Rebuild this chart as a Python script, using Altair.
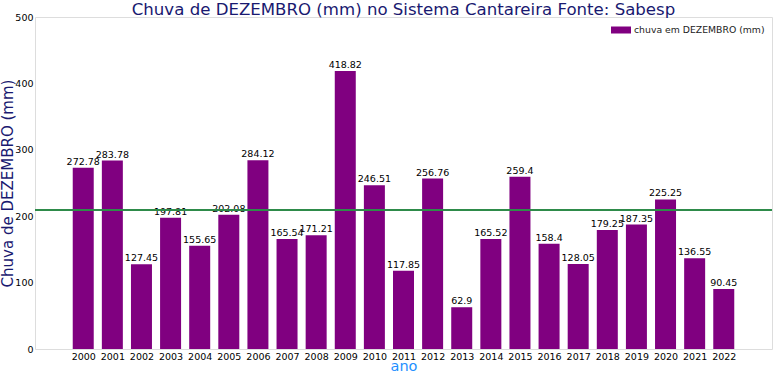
import altair as alt
import pandas as pd

anos = list(range(2000, 2023))
chuva = [272.78, 283.78, 127.45, 197.81, 155.65, 202.08, 284.12, 165.54, 171.21,
         418.82, 246.51, 117.85, 256.76, 62.9, 165.52, 259.4, 158.4, 128.05,
         179.25, 187.35, 225.25, 136.55, 90.45]
media = [209.3]
serie = "chuva em DEZEMBRO (mm)"
y_ticks = [0, 100, 200, 300, 400, 500]

df = pd.DataFrame({"ano": anos, "chuva": chuva, "serie": [serie] * len(anos),
                   "rotulo": [f"{v:g}" for v in chuva]})
df_media = pd.DataFrame({"media": media})

FONT = "DejaVu Sans"
xscale = alt.Scale(domain=[1998.515, 2023.485], nice=False, zero=False)
yscale = alt.Scale(domain=[0, 500], nice=False)

xaxis = alt.Axis(values=anos, format="d", title="ano", grid=False, ticks=False,
                 domain=False, labelFont=FONT, labelFontSize=9.5, labelColor="black",
                 labelPadding=2, labelOverlap=False, labelFlush=False,
                 titleFont=FONT, titleFontSize=14.5, titleFontWeight="normal",
                 titleColor="#1E90FF", titleY=10, titleBaseline="top")
yaxis = alt.Axis(values=y_ticks, title="Chuva de DEZEMBRO (mm)",
                 grid=False, ticks=False, domain=False, labelFont=FONT,
                 labelFontSize=9.5, labelColor="black", labelPadding=2, labelOverlap=False,
                 titleFont=FONT, titleFontSize=15, titleFontWeight="normal",
                 titleColor="#191970", titleX=-28, titleY=166, titleAngle=270,
                 titleAlign="center", titleBaseline="middle")

bars = alt.Chart(df).mark_bar(size=21).encode(
    x=alt.X("ano:Q", scale=xscale, axis=xaxis),
    y=alt.Y("chuva:Q", scale=yscale, axis=yaxis),
    color=alt.Color("serie:N", scale=alt.Scale(range=["#800080"]),
                    legend=alt.Legend(title=None, orient="none", legendX=576, legendY=3,
                                      symbolType="M-1,-0.35L1,-0.35L1,0.35L-1,0.35Z",
                                      symbolSize=400, symbolStrokeWidth=0, labelOffset=3,
                                      labelFont=FONT, labelFontSize=9.3, labelColor="#222222")),
)

labels = alt.Chart(df).mark_text(baseline="bottom", dy=-1, font=FONT, fontSize=9.5,
                                 color="black").encode(
    x=alt.X("ano:Q", scale=xscale, axis=xaxis),
    y=alt.Y("chuva:Q", scale=yscale, axis=yaxis),
    text="rotulo:N",
)

rule = alt.Chart(df_media).mark_rule(color="#2e8b4a", strokeWidth=2).encode(
    y=alt.Y("media:Q", scale=yscale, axis=yaxis)
)

chart = alt.layer(bars, labels, rule).properties(
    width=737, height=332,
    title=alt.TitleParams("Chuva de DEZEMBRO (mm) no Sistema Cantareira Fonte: Sabesp",
                          font=FONT, fontSize=16.6, fontWeight="normal", color="#191970",
                          anchor="middle", frame="group", offset=1, dy=8),
    autosize=alt.AutoSizeParams(type="none"),
    padding={"left": 35, "top": 17, "right": 2, "bottom": 26},
).configure_view(stroke="#d0d0d0", strokeWidth=1.5).configure(background="white"
).configure_axis(labelOverlap=False)

chart.save("out.html", embed_options={"renderer": "svg", "actions": False})
